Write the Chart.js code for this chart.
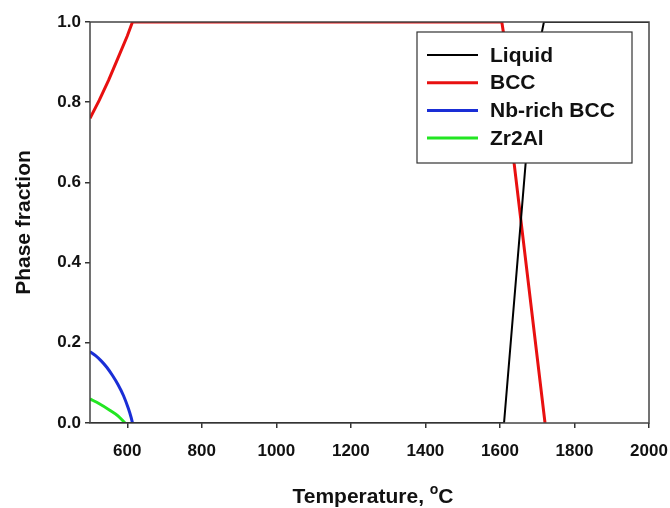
<!DOCTYPE html>
<html>
<head>
<meta charset="utf-8">
<script src="https://cdn.jsdelivr.net/npm/chart.js@4/dist/chart.umd.min.js"></script>
<style>
  html, body { margin: 0; padding: 0; background: #fff; }
  #wrap { width: 670px; height: 508px; }
</style>
</head>
<body>
<div id="wrap"><canvas id="phaseChart"></canvas></div>
<script>
// Phase fractions vs temperature
const liquidT = [500, 1611, 1669, 1690, 1705, 1718, 2000];
const liquidF = [0, 0, 0.648, 0.84, 0.94, 1.0, 1.0];

const bccT = [500, 525, 550, 575, 600, 614, 1605, 1610, 1638, 1721];
const bccF = [0.76, 0.805, 0.855, 0.91, 0.965, 1.0, 1.0, 0.97, 0.648, 0];

const nbBccT = [500, 515, 530, 545, 560, 575, 590, 603, 610, 614];
const nbBccF = [0.178, 0.168, 0.155, 0.139, 0.119, 0.096, 0.068, 0.036, 0.015, 0];

const zr2AlT = [500, 525, 553, 575, 594];
const zr2AlF = [0.06, 0.048, 0.032, 0.018, 0];

const xTicks = [600, 800, 1000, 1200, 1400, 1600, 1800, 2000];
const yTicks = [0, 0.2, 0.4, 0.6, 0.8, 1.0];

const FONT = 'Arial, "Liberation Sans", sans-serif';

/**
 * Pairs x and y arrays into points.
 */
function toPoints(xs, ys) {
  return xs.map((x, i) => ({ x: x, y: ys[i] }));
}

// frame round the plot, boxed legend and the x title with superscript o
const decorations = {
  id: 'decorations',
  afterDatasetsDraw(chart) {
    const { ctx, chartArea: a } = chart;
    ctx.save();
    ctx.strokeStyle = '#444';
    ctx.lineWidth = 1.5;
    ctx.strokeRect(a.left, a.top, a.right - a.left, a.bottom - a.top);

    // legend box
    const bx = 417, by = 32, bw = 215, bh = 131;
    ctx.fillStyle = '#fff';
    ctx.fillRect(bx, by, bw, bh);
    ctx.strokeStyle = '#333';
    ctx.lineWidth = 1.2;
    ctx.strokeRect(bx, by, bw, bh);
    ctx.font = 'bold 21px ' + FONT;
    ctx.textBaseline = 'middle';
    ctx.textAlign = 'left';
    chart.data.datasets.forEach((ds, i) => {
      const y = 55 + i * 27.7;
      ctx.strokeStyle = ds.borderColor;
      ctx.lineWidth = ds.borderWidth;
      ctx.beginPath();
      ctx.moveTo(427, y);
      ctx.lineTo(478, y);
      ctx.stroke();
      ctx.fillStyle = '#111';
      ctx.fillText(ds.label, 490, y + 1);
    });

    // x axis title
    const main = 'Temperature, ';
    ctx.font = 'bold 21px ' + FONT;
    const w1 = ctx.measureText(main).width;
    ctx.font = 'bold 14px ' + FONT;
    const w2 = ctx.measureText('o').width;
    ctx.font = 'bold 21px ' + FONT;
    const w3 = ctx.measureText('C').width;
    let x = 373 - (w1 + w2 + w3) / 2;
    const base = 503;
    ctx.textBaseline = 'alphabetic';
    ctx.fillStyle = '#111';
    ctx.fillText(main, x, base);
    x += w1;
    ctx.font = 'bold 14px ' + FONT;
    ctx.fillText('o', x, base - 9);
    x += w2;
    ctx.font = 'bold 21px ' + FONT;
    ctx.fillText('C', x, base);
    ctx.restore();
  }
};

function init() {
  const canvas = document.getElementById('phaseChart');
  new Chart(canvas, {
    type: 'line',
    data: {
      datasets: [
        { label: 'Liquid', data: toPoints(liquidT, liquidF), borderColor: '#000', borderWidth: 2 },
        { label: 'BCC', data: toPoints(bccT, bccF), borderColor: '#e81010', borderWidth: 3 },
        { label: 'Nb-rich BCC', data: toPoints(nbBccT, nbBccF), borderColor: '#1a2ed6', borderWidth: 3, cubicInterpolationMode: 'monotone' },
        { label: 'Zr2Al', data: toPoints(zr2AlT, zr2AlF), borderColor: '#22e622', borderWidth: 3, cubicInterpolationMode: 'monotone' }
      ]
    },
    options: {
      responsive: true,
      maintainAspectRatio: false,
      animation: false,
      elements: { point: { radius: 0 }, line: { tension: 0, fill: false } },
      layout: { padding: { top: 22, right: 0, left: 0, bottom: 0 } },
      plugins: {
        legend: { display: false },
        tooltip: { enabled: false }
      },
      scales: {
        x: {
          type: 'linear',
          min: 500,
          max: 2000,
          afterBuildTicks: (scale) => { scale.ticks = xTicks.map(v => ({ value: v })); },
          afterFit: (scale) => {
            scale.height = 85;
            scale.paddingRight = 21;
            scale.paddingLeft = 0;
          },
          border: { display: false },
          grid: { drawOnChartArea: false, drawTicks: true, tickLength: 5, tickColor: '#333', lineWidth: 1.5 },
          ticks: {
            color: '#111',
            padding: 13,
            maxRotation: 0,
            font: { family: FONT, size: 17, weight: 'bold' },
            callback: (v) => String(v)
          },
          title: { display: false }
        },
        y: {
          min: 0,
          max: 1,
          afterBuildTicks: (scale) => { scale.ticks = yTicks.map(v => ({ value: v })); },
          afterFit: (scale) => { scale.width = 90; },
          border: { display: false },
          grid: { drawOnChartArea: false, drawTicks: true, tickLength: 5, tickColor: '#333', lineWidth: 1.5 },
          ticks: {
            color: '#111',
            padding: 4,
            font: { family: FONT, size: 17, weight: 'bold' },
            callback: (v) => Number(v).toFixed(1)
          },
          title: {
            display: true,
            text: 'Phase fraction',
            color: '#111',
            padding: { top: 12, bottom: 0 },
            font: { family: FONT, size: 21, weight: 'bold' }
          }
        }
      }
    },
    plugins: [decorations]
  });
}

init();
</script>
</body>
</html>
